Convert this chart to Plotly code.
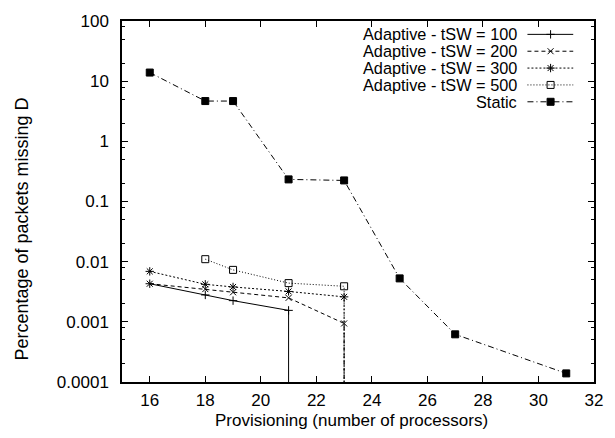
import plotly.graph_objects as go

# ---- data ----
x_100 = [16, 18, 19, 21, 21]
y_100 = [0.0043, 0.0028, 0.00225, 0.00155, 0]

x_200 = [16, 18, 19, 21, 23, 23]
y_200 = [0.0043, 0.0035, 0.0031, 0.0025, 0.00094, 0]

x_300 = [16, 18, 19, 21, 23, 23]
y_300 = [0.0069, 0.0042, 0.0038, 0.0032, 0.0026, 0]

x_500 = [18, 19, 21, 23, 23]
y_500 = [0.011, 0.0073, 0.0044, 0.0039, 0]

x_static = [16, 18, 19, 21, 23, 25, 27, 31]
y_static = [13.9, 4.67, 4.67, 0.233, 0.224, 0.00527, 0.00062, 0.000139]

series_names = ["Adaptive - tSW = 100", "Adaptive - tSW = 200",
                "Adaptive - tSW = 300", "Adaptive - tSW = 500", "Static"]

x_ticks = [16, 18, 20, 22, 24, 26, 28, 30, 32]
y_ticks = [0.0001, 0.001, 0.01, 0.1, 1, 10, 100]
y_ticktext = ["0.0001", "0.001", "0.01", "0.1", "1", "10", "100"]

# zero values cannot be shown on a log axis; draw them far below the axis (clipped)
LOG_FLOOR = 1e-9


def floor(vals):
    return [v if v > 0 else LOG_FLOOR for v in vals]


FONT = "Liberation Sans, Arial, Helvetica, sans-serif"
FS = 17

styles = [
    dict(dash="solid", symbol="cross-thin-open", size=6),
    dict(dash="4px,3px", symbol="x-thin-open", size=6),
    dict(dash="2px,2px", symbol="asterisk-open", size=7),
    dict(dash="1px,2px", symbol="square-open", size=7),
    dict(dash="6px,3px,1px,3px", symbol="square", size=7),
]
data = [(x_100, y_100), (x_200, y_200), (x_300, y_300), (x_500, y_500),
        (x_static, y_static)]

fig = go.Figure()

for (xs, ys), st, name in zip(data, styles, series_names):
    fig.add_trace(go.Scatter(
        x=xs, y=floor(ys), mode="lines+markers", name=name,
        line=dict(color="black", width=1, dash=st["dash"]),
        marker=dict(symbol=st["symbol"], size=st["size"], color="black",
                    line=dict(color="black", width=1)),
        showlegend=False,
    ))

# ---- manual gnuplot-style legend (text left, sample right) ----
leg_rows = [0.963, 0.9163, 0.8696, 0.8229, 0.7762]
for st, name, ly in zip(styles, series_names, leg_rows):
    fig.add_trace(go.Scatter(
        x=[0.859, 0.956], y=[ly, ly], mode="lines", xaxis="x2", yaxis="y2",
        line=dict(color="black", width=1, dash=st["dash"]),
        showlegend=False, hoverinfo="skip",
    ))
    fig.add_trace(go.Scatter(
        x=[0.908], y=[ly], mode="markers", xaxis="x2", yaxis="y2",
        marker=dict(symbol=st["symbol"], size=st["size"], color="black",
                    line=dict(color="black", width=1)),
        showlegend=False, hoverinfo="skip",
    ))
    fig.add_annotation(
        text=name, xref="paper", yref="paper", x=0.838, y=ly,
        xanchor="right", yanchor="middle", showarrow=False, borderpad=0,
        font=dict(family=FONT, size=16.3, color="black"),
    )

minor_vals = []
for e in range(-4, 2):
    for m in (2, 5, 8):
        minor_vals.append(m * 10 ** e)

fig.update_layout(
    width=615, height=438,
    margin=dict(l=122, r=12, t=14, b=56),
    paper_bgcolor="white", plot_bgcolor="white",
    showlegend=False,
    font=dict(family=FONT, size=FS, color="black"),
    xaxis=dict(
        range=[15, 32], tickmode="array", tickvals=x_ticks,
        ticks="inside", ticklen=6, tickwidth=1, tickcolor="black",
        showline=True, linecolor="black", linewidth=1.5, mirror="ticks",
        showgrid=False, zeroline=False,
        tickfont=dict(family=FONT, size=FS, color="black"),
        ticklabelstandoff=2,
    ),
    yaxis=dict(
        type="log", range=[-4, 2], tickmode="array",
        tickvals=y_ticks, ticktext=y_ticktext,
        ticks="inside", ticklen=6, tickwidth=1, tickcolor="black",
        showline=True, linecolor="black", linewidth=1.5, mirror="ticks",
        showgrid=False, zeroline=False,
        tickfont=dict(family=FONT, size=FS, color="black"),
        ticklabelstandoff=8,
        minor=dict(tickmode="array", tickvals=minor_vals, ticks="inside",
                   ticklen=3, tickcolor="black", tickwidth=1, showgrid=False),
    ),
    xaxis2=dict(overlaying="x", anchor="y2", range=[0, 1], visible=False,
                fixedrange=True),
    yaxis2=dict(overlaying="y", anchor="x2", range=[0, 1], visible=False,
                fixedrange=True),
)

fig.add_annotation(
    text="Provisioning (number of processors)", xref="paper", yref="paper",
    x=0.486, y=-0.106, xanchor="center", yanchor="middle", showarrow=False,
    font=dict(family=FONT, size=FS, color="black"),
)
fig.add_annotation(
    text="Percentage of packets missing D", xref="paper", yref="paper",
    x=-0.212, y=0.425, xanchor="center", yanchor="middle", showarrow=False,
    textangle=-90, font=dict(family=FONT, size=18, color="black"),
)

fig.write_html("out.html")
